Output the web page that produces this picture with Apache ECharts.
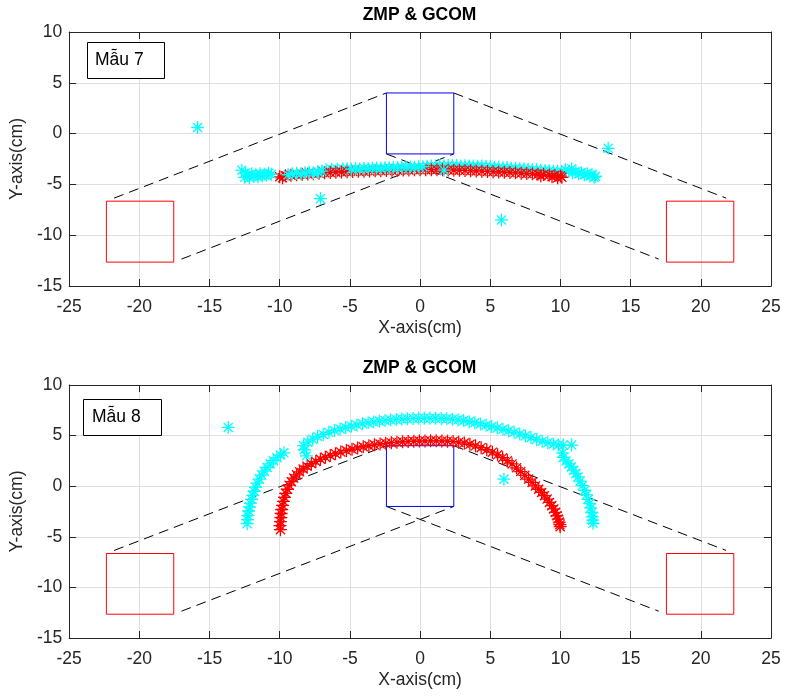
<!DOCTYPE html>
<html>
<head>
<meta charset="utf-8">
<script src="https://cdn.jsdelivr.net/npm/echarts@6/dist/echarts.min.js"></script>
<style>html,body{margin:0;padding:0;background:#fff}#c{width:785px;height:696px}</style>
</head>
<body>
<div id="c"></div>
<script>
// ---------- tick values ----------
const X_TICKS = [-25, -20, -15, -10, -5, 0, 5, 10, 15, 20, 25];
const Y_TICKS = [-15, -10, -5, 0, 5, 10];

// ---------- Mẫu 7 ----------
const ZMP_7 = [
 [-10.0,-4.25],[-9.8,-4.35],[-9.6,-4.15],[-9.2,-4.1],[-8.8,-4.05],[-8.4,-4.0],[-8.0,-3.98],[-7.6,-3.95],[-7.2,-3.9],[-6.8,-3.85],
 [-6.4,-3.82],[-6.0,-3.8],[-5.6,-3.78],[-5.2,-3.75],[-4.8,-3.72],[-4.4,-3.7],[-4.0,-3.7],[-3.6,-3.68],[-3.2,-3.65],[-2.8,-3.65],
 [-2.4,-3.62],[-2.0,-3.6],[-1.6,-3.6],[-1.2,-3.58],[-0.8,-3.58],[-0.4,-3.56],[0.0,-3.56],[0.4,-3.55],[0.8,-3.55],[1.2,-3.56],
 [1.6,-3.56],[2.0,-3.58],[2.4,-3.6],[2.8,-3.6],[3.2,-3.62],[3.6,-3.65],[4.0,-3.67],[4.4,-3.7],[4.8,-3.72],[5.2,-3.75],
 [5.6,-3.78],[6.0,-3.8],[6.4,-3.83],[6.8,-3.86],[7.2,-3.9],[7.6,-3.93],[8.0,-3.96],[8.4,-4.0],[8.8,-4.03],[9.2,-4.07],
 [9.6,-4.12],[10.0,-4.18],[9.4,-4.25],[9.8,-4.35],[10.1,-4.3],[8.6,-4.15]
];
const GCOM_7_UNDER = [
 [-6.7,-3.55],[-6.3,-3.5],[-5.9,-3.5],[-5.5,-3.48],[-5.2,-3.47],
 [0.5,-3.22],[0.8,-3.18],[1.1,-3.2],[1.4,-3.15],[1.7,-3.18],[2.0,-3.15],[2.3,-3.17],[2.6,-3.14],[2.9,-3.18],[3.2,-3.16],
 [3.5,-3.2],[3.8,-3.18],[4.1,-3.22],[4.4,-3.2],[4.7,-3.25],[5.0,-3.27],[5.3,-3.3],[5.6,-3.32],[5.9,-3.35],[6.2,-3.37],
 [6.5,-3.4],[6.8,-3.42],[7.1,-3.45],[7.4,-3.48],[7.7,-3.5],[8.0,-3.53],[8.3,-3.56],[8.6,-3.6],[8.9,-3.62],[9.2,-3.65],
 [9.5,-3.68],[9.8,-3.7],
 [10.1,-3.75],[10.35,-3.55],[10.6,-3.7],[10.85,-3.85],[11.1,-3.75],[11.3,-3.95],[11.5,-3.85],[11.7,-4.05],[11.9,-3.95],
 [12.1,-4.15],[12.25,-4.05],[12.4,-4.3],[12.5,-4.2]
];
const GCOM_7_OVER = [
 [-12.5,-4.3],[-12.45,-3.85],[-12.3,-4.1],[-12.15,-4.35],[-12.0,-3.95],[-11.85,-4.2],[-11.7,-4.05],[-11.55,-4.25],
 [-11.4,-3.95],[-11.25,-4.15],[-11.1,-4.0],[-10.95,-4.1],[-10.8,-3.9],[-10.6,-4.0],
 [-9.4,-4.05],[-9.1,-3.95],[-8.8,-3.9],[-8.5,-3.95],[-8.2,-3.85],[-7.9,-3.8],[-7.6,-3.85],[-7.3,-3.75],[-7.0,-3.7],
 [-4.9,-3.5],[-4.6,-3.45],[-4.3,-3.48],[-4.0,-3.42],[-3.7,-3.44],[-3.4,-3.4],[-3.1,-3.38],[-2.8,-3.4],[-2.5,-3.35],
 [-2.2,-3.37],[-1.9,-3.33],[-1.6,-3.35],[-1.3,-3.3],[-1.0,-3.32],[-0.7,-3.28],[-0.4,-3.3],[-0.1,-3.26],[0.2,-3.26]
];
const GCOM_7_OUT = [[-15.85,0.6],[-7.1,-6.4],[5.8,-8.5],[13.4,-1.45],[10.8,-3.45],[1.7,-3.6],[-12.7,-3.6],[-7.25,-3.8]];

// ---------- Mẫu 8 ----------
const ZMP_8 = [
 [-9.95,-4.3],[-9.98,-3.9],[-9.95,-3.5],[-9.92,-3.1],[-9.9,-2.7],[-9.86,-2.3],[-9.8,-1.9],[-9.74,-1.5],[-9.66,-1.1],
 [-9.57,-0.7],[-9.46,-0.3],[-9.33,0.1],[-9.18,0.45],[-9.0,0.8],[-8.8,1.12],[-8.58,1.42],[-8.33,1.7],[-8.05,1.97],
 [-7.75,2.22],[-7.43,2.45],[-7.1,2.66],[-6.75,2.86],[-6.4,3.04],[-6.03,3.21],[-5.65,3.37],[-5.25,3.52],[-4.85,3.65],
 [-4.45,3.78],[-4.05,3.9],[-3.65,4.0],[-3.25,4.09],[-2.85,4.17],[-2.45,4.24],[-2.05,4.3],[-1.65,4.35],[-1.25,4.39],
 [-0.85,4.42],[-0.45,4.44],[-0.05,4.46],[0.35,4.47],[0.75,4.48],[1.15,4.48],[1.55,4.47],[1.95,4.45],[2.35,4.41],
 [2.75,4.35],[3.15,4.26],[3.55,4.14],[3.95,3.99],[4.35,3.81],[4.75,3.6],[5.15,3.36],[5.52,3.1],[5.88,2.82],[6.22,2.52],
 [6.55,2.2],[6.87,1.82],[7.17,1.45],[7.46,1.07],[7.73,0.7],[7.98,0.37],[8.22,0.03],[8.45,-0.3],[8.66,-0.62],[8.86,-0.94],
 [9.05,-1.27],[9.22,-1.6],[9.38,-1.92],[9.52,-2.25],[9.64,-2.58],[9.75,-2.92],[9.84,-3.25],[9.91,-3.55],[9.96,-3.8],[9.98,-4.0]
];
const GCOM_8 = [
 [-12.32,-3.7],[-12.3,-3.3],[-12.27,-2.9],[-12.22,-2.45],[-12.16,-2.05],[-12.09,-1.7],[-12.0,-1.3],[-11.92,-0.9],
 [-11.83,-0.5],[-11.72,-0.1],[-11.6,0.3],[-11.45,0.7],[-11.28,1.1],[-11.1,1.48],[-10.9,1.85],[-10.68,2.2],[-10.45,2.52],
 [-10.2,2.82],[-9.95,3.08],[-9.7,3.3],
 [-8.1,3.0],[-8.25,3.6],[-8.3,4.0],[-8.0,4.35],[-7.65,4.65],[-7.3,4.9],[-6.9,5.12],[-6.5,5.32],[-6.1,5.5],[-5.7,5.66],
 [-5.3,5.8],[-4.9,5.93],[-4.5,6.05],[-4.1,6.16],[-3.7,6.26],[-3.3,6.35],[-2.9,6.43],[-2.5,6.5],[-2.1,6.55],[-1.7,6.6],
 [-1.3,6.64],[-0.9,6.67],[-0.5,6.7],[-0.1,6.71],[0.3,6.72],[0.7,6.72],[1.1,6.71],[1.5,6.69],[1.9,6.66],[2.3,6.62],
 [2.7,6.56],[3.1,6.48],[3.5,6.38],[3.9,6.27],[4.3,6.15],[4.7,6.02],[5.1,5.9],[5.5,5.76],[5.9,5.62],[6.3,5.47],[6.7,5.32],
 [7.1,5.15],[7.5,4.98],[7.9,4.8],[8.3,4.62],[8.7,4.45],[9.1,4.3],[9.5,4.18],[9.85,4.08],[10.2,4.06],[10.8,4.06],
 [10.15,3.3],[10.2,2.84],[10.4,2.5],[10.6,2.2],[10.78,1.91],[10.95,1.58],[11.1,1.25],[11.25,0.92],[11.4,0.5],[11.56,0.05],
 [11.73,-0.4],[11.85,-0.85],[11.97,-1.3],[12.08,-1.71],[12.16,-2.15],[12.23,-2.6],[12.27,-3.04],[12.3,-3.35],[12.32,-3.66]
];
const GCOM_8_OUT = [[-13.67,5.81],[5.97,0.69]];

// ---------- robot footprint outlines (same in both panels) ----------
const FOOT_LEFT  = [[-22.35,-6.65],[-17.55,-6.65],[-17.55,-12.65],[-22.35,-12.65],[-22.35,-6.65]];
const FOOT_RIGHT = [[17.55,-6.65],[22.35,-6.65],[22.35,-12.65],[17.55,-12.65],[17.55,-6.65]];
const BODY_BOX   = [[-2.4,4.0],[2.4,4.0],[2.4,-2.0],[-2.4,-2.0],[-2.4,4.0]];
const DASH_UL = [[-21.8,-6.35],[-2.4,4.0]];
const DASH_LL = [[-17.0,-12.35],[2.4,-2.0]];
const DASH_UR = [[2.4,4.0],[21.8,-6.35]];
const DASH_LR = [[-2.4,-2.0],[17.0,-12.35]];

const TITLE = 'ZMP & GCOM';
const LABELS = ['Mẫu 7', 'Mẫu 8'];

// ---------- styling ----------
const FONT = '"Liberation Sans", Arial, Helvetica, sans-serif';
const FS = 17.5;
const AX = '#262626';
const STAR = 'path://M0,5L10,5M5,0L5,10M1.5,1.5L8.5,8.5M8.5,1.5L1.5,8.5';

function xAxes(g) {
  const common = {gridIndex: g, type: 'value', min: X_TICKS[0], max: X_TICKS[X_TICKS.length-1], interval: 5,
    axisLine: {onZero: false, lineStyle: {color: AX, width: 1}},
    axisTick: {inside: true, length: 7, lineStyle: {color: AX}}};
  return [
    Object.assign({}, common, {position: 'bottom', name: 'X-axis(cm)', nameLocation: 'middle', nameGap: 33,
      nameTextStyle: {fontSize: FS, color: AX, fontFamily: FONT},
      axisLabel: {fontSize: FS, color: AX, fontFamily: FONT, margin: 12},
      splitLine: {show: true, lineStyle: {color: '#dfdfdf', width: 1}}}),
    Object.assign({}, common, {position: 'top', axisLabel: {show: false}, splitLine: {show: false}})
  ];
}
function yAxes(g) {
  const common = {gridIndex: g, type: 'value', min: Y_TICKS[0], max: Y_TICKS[Y_TICKS.length-1], interval: 5,
    axisLine: {onZero: false, lineStyle: {color: AX, width: 1}},
    axisTick: {inside: true, length: 7, lineStyle: {color: AX}}};
  return [
    Object.assign({}, common, {position: 'left', name: 'Y-axis(cm)', nameLocation: 'middle', nameGap: 34,
      nameTextStyle: {fontSize: FS, color: AX, fontFamily: FONT},
      axisLabel: {fontSize: FS, color: AX, fontFamily: FONT, margin: 7},
      splitLine: {show: true, lineStyle: {color: '#dfdfdf', width: 1}}}),
    Object.assign({}, common, {position: 'right', axisLabel: {show: false}, splitLine: {show: false}})
  ];
}
function scat(data, color, ai) {
  return {type: 'scatter', data: data, xAxisIndex: ai, yAxisIndex: ai, symbol: STAR, symbolSize: 13,
    itemStyle: {color: 'transparent', borderColor: color, borderWidth: 1.3, opacity: 1},
    silent: true, animation: false, z: 3};
}
function poly(data, color, ai, dashed) {
  return {type: 'line', data: data, xAxisIndex: ai, yAxisIndex: ai, symbol: 'none', showSymbol: false,
    lineStyle: {color: color, width: 1, type: dashed ? [10, 6] : 'solid'},
    silent: true, animation: false, z: 2};
}
function shapes(ai) {
  return [
    poly(DASH_UL, '#000', ai, true), poly(DASH_LL, '#000', ai, true),
    poly(DASH_UR, '#000', ai, true), poly(DASH_LR, '#000', ai, true),
    poly(FOOT_LEFT, '#ff0000', ai, false), poly(FOOT_RIGHT, '#ff0000', ai, false),
    poly(BODY_BOX, '#0000ff', ai, false)
  ];
}

const chart = echarts.init(document.getElementById('c'), null, {renderer: 'canvas'});
const CYAN = '#00ffff', RED = '#ff0000';
chart.setOption({
  animation: false,
  backgroundColor: '#fff',
  grid: [
    {left: 68, top: 32, width: 703, height: 254},
    {left: 68, top: 385, width: 703, height: 253}
  ],
  xAxis: xAxes(0).concat(xAxes(1)).map((a, i) => { if (i >= 2) a.gridIndex = 1; return a; }),
  yAxis: yAxes(0).concat(yAxes(1)).map((a, i) => { if (i >= 2) a.gridIndex = 1; return a; }),
  series: [].concat(
    shapes(0),
    [scat(GCOM_7_UNDER, CYAN, 0), scat(ZMP_7, RED, 0), scat(GCOM_7_OVER, CYAN, 0), scat(GCOM_7_OUT, CYAN, 0)],
    shapes(2),
    [scat(ZMP_8, RED, 2), scat(GCOM_8, CYAN, 2), scat(GCOM_8_OUT, CYAN, 2)]
  ),
  graphic: [
    {type: 'text', x: 419.5, y: 15, z: 100, style: {text: TITLE, fontSize: FS, fontWeight: 'bold', fontFamily: FONT, fill: '#000', align: 'center', verticalAlign: 'middle'}},
    {type: 'text', x: 419.5, y: 368, z: 100, style: {text: TITLE, fontSize: FS, fontWeight: 'bold', fontFamily: FONT, fill: '#000', align: 'center', verticalAlign: 'middle'}},
    {type: 'rect', z: 100, shape: {x: 87.5, y: 42.5, width: 77, height: 36}, style: {fill: '#fff', stroke: '#000', lineWidth: 1}},
    {type: 'text', x: 95, y: 60.5, z: 101, style: {text: LABELS[0], fontSize: FS, fontFamily: FONT, fill: '#000', align: 'left', verticalAlign: 'middle'}},
    {type: 'rect', z: 100, shape: {x: 83.5, y: 399.5, width: 78, height: 36}, style: {fill: '#fff', stroke: '#000', lineWidth: 1}},
    {type: 'text', x: 92, y: 417.5, z: 101, style: {text: LABELS[1], fontSize: FS, fontFamily: FONT, fill: '#000', align: 'left', verticalAlign: 'middle'}}
  ]
});
</script>
</body>
</html>
